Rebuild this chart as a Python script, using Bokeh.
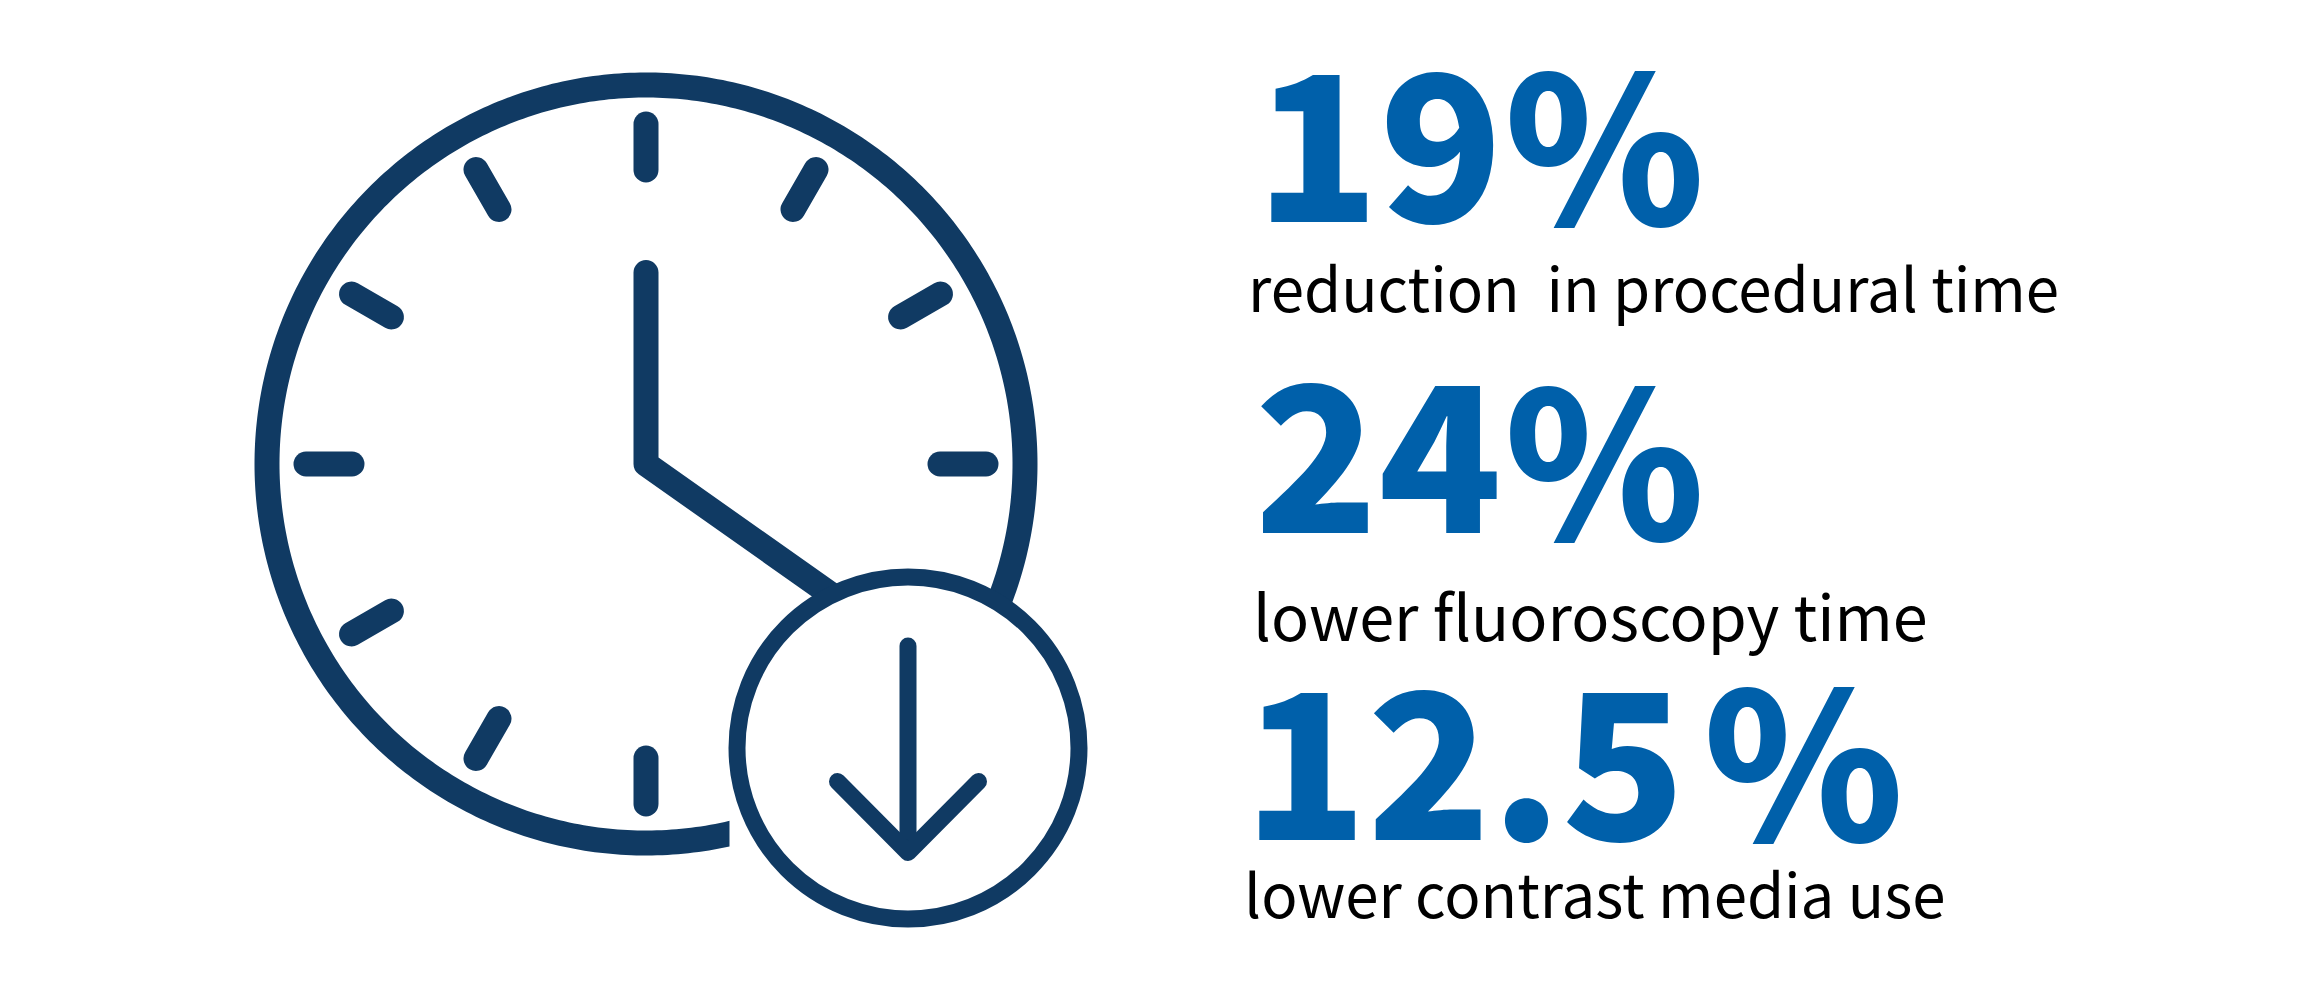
import numpy as np
from bokeh.plotting import figure
from bokeh.models import Range1d
from bokeh.core.properties import value
from bokeh.embed import file_html
from bokeh.resources import INLINE

# Content
headline_values = ["19", "24", "12.5"]
percent_sign = "%"
captions = ["reduction\u00a0 in procedural time", "lower fluoroscopy time", "lower contrast media use"]
clock_tick_hours = [12, 1, 2, 3, 6, 7, 8, 9, 10, 11]

NAVY = "#103A63"
BLUE = "#0060AA"
FONT_BIG = "Noto Sans CJK SC Black"
FONT = "Noto Sans CJK SC"

p = figure(width=2284, height=984, output_backend="svg", toolbar_location=None,
           x_range=Range1d(0, 2284), y_range=Range1d(984, 0),
           min_border=0, outline_line_color=None, background_fill_color="white",
           border_fill_color="white")
p.axis.visible = False
p.grid.visible = False

cx, cy = 645.5, 463.5
R_out, R_in = 391.5, 366.5
end_x = 729.0


def arc(r, a_start, a_end, n=400):
    a = np.linspace(a_start, a_end, n)  # angle from straight down, negative = towards the left
    return cx + r * np.sin(a), cy + r * np.cos(a)


a_stop = np.radians(68 - 360)
xo, yo = arc(R_out, np.arcsin((end_x - cx) / R_out), a_stop)
xi, yi = arc(R_in, np.arcsin((end_x - cx) / R_in), a_stop)
p.patch(np.r_[xo, xi[::-1]], np.r_[yo, yi[::-1]], fill_color=NAVY, line_color=None)

# ticks
r1, r2 = 294, 340
for h in clock_tick_hours:
    t = np.radians(h * 30)
    p.line([cx + r1 * np.sin(t), cx + r2 * np.sin(t)], [cy - r1 * np.cos(t), cy - r2 * np.cos(t)],
           line_color=NAVY, line_width=25, line_cap="round")

# hands
p.line([cx, cx, 829], [272, cy, 593], line_color=NAVY, line_width=25, line_cap="round", line_join="round")

# small circle with arrow
sx, sy = 907.5, 747.5
p.circle([sx], [sy], radius=171, fill_color="white", line_color=NAVY, line_width=17)
p.line([sx, sx], [645.5, 850], line_color=NAVY, line_width=17, line_cap="round")
p.line([837, sx, 978], [781, 852, 781], line_color=NAVY, line_width=17, line_cap="round", line_join="round")

# texts
BIG = 203
OFF = 0.371 * BIG
num_x = [1255, 1254, 1243]
num_y = [221.5, 532, 839]
p.text(num_x, [y - OFF for y in num_y], text=headline_values, text_font=value(FONT_BIG), text_font_style="bold",
       text_font_size=f"{BIG}px", text_color=BLUE, text_baseline="middle", text_align="left")
pct_x = [1504, 1504, 1703]
pct_y = [211.5, 526, 827]
p.text(pct_x, [y - OFF for y in pct_y], text=[percent_sign] * 3, text_font=value(FONT_BIG), text_font_style="bold",
       text_font_size=f"{BIG}px", text_color=BLUE, text_baseline="middle", text_align="left")
cap_x = [1247.6, 1252.6, 1243.6]
cap_y = [312, 641, 918]
cap_size = [60, 63, 60]
for x, y, s, t in zip(cap_x, cap_y, cap_size, captions):
    p.text([x], [y - 0.45 * s], text=[t], text_font=value(FONT), text_font_size=f"{s}px",
           text_color="black", text_baseline="middle", text_align="left")

open("out.html", "w").write(file_html(p, INLINE))
